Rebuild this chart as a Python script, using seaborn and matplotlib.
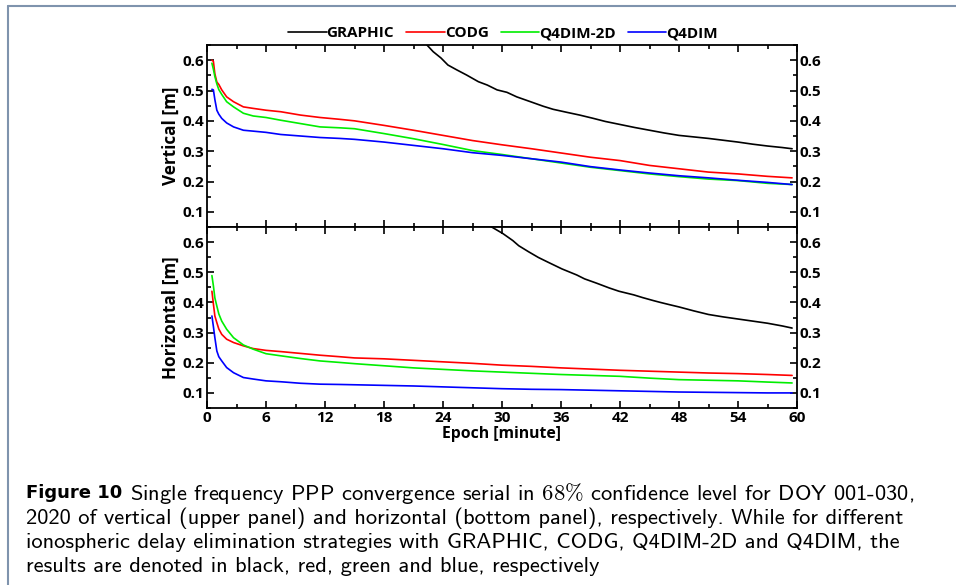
import matplotlib
matplotlib.use("Agg")
import matplotlib.pyplot as plt
import seaborn as sns
from matplotlib.ticker import MultipleLocator
from matplotlib.lines import Line2D

# ---- data ----
minutes = [0.5, 0.65, 0.8, 1.0, 1.2, 1.5, 2.0, 2.7, 3.7, 4.7, 6, 7.5, 9.5, 11.5, 13.5, 15,
           18, 21, 24, 27, 30, 33, 36, 39, 42, 45, 48, 51, 54, 57, 59.5]

vert_codg = [0.600, 0.596, 0.555, 0.528, 0.520, 0.502, 0.479, 0.463, 0.446, 0.441, 0.435, 0.430, 0.419, 0.411, 0.405, 0.400,
             0.385, 0.369, 0.352, 0.335, 0.321, 0.308, 0.294, 0.280, 0.269, 0.253, 0.242, 0.231, 0.225, 0.217, 0.212]
vert_q4dim2d = [0.590, 0.570, 0.546, 0.522, 0.503, 0.487, 0.463, 0.446, 0.425, 0.416, 0.411, 0.402, 0.391, 0.380, 0.377, 0.374,
                0.358, 0.341, 0.322, 0.302, 0.289, 0.275, 0.261, 0.247, 0.236, 0.225, 0.216, 0.208, 0.203, 0.194, 0.190]
vert_q4dim = [0.504, 0.502, 0.470, 0.435, 0.422, 0.408, 0.393, 0.380, 0.369, 0.366, 0.362, 0.355, 0.350, 0.345, 0.342, 0.339,
              0.330, 0.319, 0.308, 0.295, 0.286, 0.275, 0.264, 0.249, 0.238, 0.228, 0.219, 0.212, 0.204, 0.197, 0.190]
vert_graphic_t = [21, 22.34, 23.0, 23.8, 24.5, 25.4, 26.4, 27.6, 28.5, 29.5, 30.5, 31.5, 32.9, 34.2, 35.2, 36.6,
                  37.9, 39.3, 40.5, 42, 43.5, 45, 46.5, 48, 49.5, 51, 52.5, 54, 55.5, 57, 58.5, 59.5]
vert_graphic = [0.69, 0.651, 0.628, 0.607, 0.584, 0.568, 0.551, 0.529, 0.518, 0.502, 0.494, 0.479, 0.463, 0.448, 0.438, 0.428,
                0.419, 0.408, 0.398, 0.388, 0.378, 0.369, 0.360, 0.352, 0.347, 0.342, 0.336, 0.330, 0.323, 0.317, 0.312, 0.308]

hor_codg = [0.437, 0.395, 0.355, 0.333, 0.312, 0.294, 0.278, 0.267, 0.256, 0.247, 0.241, 0.237, 0.231, 0.225, 0.220, 0.216,
            0.213, 0.208, 0.203, 0.198, 0.192, 0.188, 0.183, 0.179, 0.175, 0.172, 0.169, 0.166, 0.164, 0.161, 0.158]
hor_q4dim2d = [0.489, 0.455, 0.415, 0.388, 0.362, 0.338, 0.311, 0.283, 0.259, 0.245, 0.230, 0.223, 0.214, 0.206, 0.201, 0.197,
               0.190, 0.183, 0.178, 0.173, 0.169, 0.165, 0.161, 0.158, 0.155, 0.149, 0.144, 0.142, 0.140, 0.136, 0.133]
hor_q4dim = [0.355, 0.320, 0.283, 0.239, 0.220, 0.206, 0.184, 0.167, 0.151, 0.146, 0.140, 0.137, 0.132, 0.129, 0.128, 0.127,
             0.125, 0.123, 0.120, 0.117, 0.114, 0.112, 0.111, 0.109, 0.107, 0.105, 0.103, 0.102, 0.101, 0.100, 0.100]
hor_graphic_t = [28, 28.95, 30.1, 31.1, 31.7, 32.7, 33.7, 34.7, 36.1, 37.6, 38.4, 39.6, 40.9, 41.9, 43.4, 44.3, 45.4,
                 46.1, 47.1, 48, 49.5, 51, 52.5, 54, 55.5, 57, 58.5, 59.5]
hor_graphic = [0.67, 0.65, 0.628, 0.605, 0.588, 0.568, 0.549, 0.533, 0.511, 0.491, 0.478, 0.464, 0.448, 0.437, 0.425, 0.416, 0.406,
               0.400, 0.392, 0.385, 0.372, 0.360, 0.352, 0.345, 0.338, 0.331, 0.322, 0.315]

series_names = ["GRAPHIC", "CODG", "Q4DIM-2D", "Q4DIM"]
series_colors = ["#000000", "#ff0000", "#00ee00", "#0000ff"]
x_ticks = [0, 6, 12, 18, 24, 30, 36, 42, 48, 54, 60]
y_ticks = [0.1, 0.2, 0.3, 0.4, 0.5, 0.6]

caption_lines = [
    "Single frequency PPP convergence serial in $68\\%$ confidence level for DOY 001-030,",
    "2020 of vertical (upper panel) and horizontal (bottom panel), respectively. While for different",
    "ionospheric delay elimination strategies with GRAPHIC, CODG, Q4DIM-2D and Q4DIM, the",
    "results are denoted in black, red, green and blue, respectively",
]

# ---- style ----
sns.set_theme(style="ticks")
plt.rcParams["font.family"] = ["Open Sans", "DejaVu Sans"]
plt.rcParams["font.weight"] = "bold"
plt.rcParams["mathtext.fontset"] = "cm"
for k in ["text.color", "axes.labelcolor", "xtick.color", "ytick.color", "axes.edgecolor"]:
    plt.rcParams[k] = "black"

fig = plt.figure(figsize=(9.56, 5.85), dpi=100)
L, W = 207 / 956, 590 / 956
ax_top = fig.add_axes([L, 1 - 227 / 585, W, 182 / 585])
ax_bot = fig.add_axes([L, 1 - 408 / 585, W, 181 / 585])


def draw(ax, gt, gv, codg, q2d, q4):
    sns.lineplot(x=gt, y=gv, ax=ax, color=series_colors[0], lw=1.2, label=series_names[0])
    sns.lineplot(x=minutes, y=codg, ax=ax, color=series_colors[1], lw=1.2, label=series_names[1])
    sns.lineplot(x=minutes, y=q2d, ax=ax, color=series_colors[2], lw=1.2, label=series_names[2])
    sns.lineplot(x=minutes, y=q4, ax=ax, color=series_colors[3], lw=1.2, label=series_names[3])
    ax.set_xlim(0, 60)
    ax.set_ylim(0.05, 0.65)
    ax.set_xticks(x_ticks)
    ax.set_yticks(y_ticks)
    ax.xaxis.set_minor_locator(MultipleLocator(3))
    ax.yaxis.set_minor_locator(MultipleLocator(0.05))
    ax.tick_params(which="both", direction="in", top=True, right=True, labelright=True,
                   width=1.2, labelsize=11, pad=2, colors="black")
    ax.tick_params(which="major", length=5)
    ax.tick_params(which="minor", length=3)
    for s in ax.spines.values():
        s.set_linewidth(1.3)
        s.set_color("black")
    ax.set_yticklabels([f"{v:.1f}" for v in y_ticks], fontweight="bold")


draw(ax_top, vert_graphic_t, vert_graphic, vert_codg, vert_q4dim2d, vert_q4dim)
draw(ax_bot, hor_graphic_t, hor_graphic, hor_codg, hor_q4dim2d, hor_q4dim)

handles, labels = ax_top.get_legend_handles_labels()
ax_top.get_legend().remove()
ax_bot.get_legend().remove()
fig.legend(handles, labels, loc="center", bbox_to_anchor=(503 / 956, 1 - 33 / 585), ncol=4,
           frameon=False, handlelength=2.5, handletextpad=0.0, columnspacing=0.8,
           prop={"weight": "bold", "size": 11})

ax_top.tick_params(labelbottom=False)
ax_top.set_xlabel("")
ax_bot.set_xticklabels([str(v) for v in x_ticks], fontweight="bold")
ax_top.set_ylabel("Vertical [m]", fontsize=12.3, fontweight="bold", labelpad=2)
ax_bot.set_ylabel("Horizontal [m]", fontsize=12.3, fontweight="bold", labelpad=2)
ax_bot.set_xlabel("Epoch [minute]", fontsize=11.3, fontweight="bold", labelpad=1)

# frame lines of the page
border = "#7f93ad"
fig.add_artist(Line2D([7.5 / 956, 7.5 / 956], [0, 1 - 5.5 / 585], transform=fig.transFigure, color=border, lw=1.5))
fig.add_artist(Line2D([7.5 / 956, 1], [1 - 5.5 / 585, 1 - 5.5 / 585], transform=fig.transFigure, color=border, lw=1.5))

# caption
cap_font = ["cmss10", "DejaVu Sans"]
ys = [493, 518, 542, 566]
x0 = 26
t0 = fig.text(x0 / 956, 1 - ys[0] / 585, "Figure 10", fontsize=13, fontweight="bold",
              family=["DejaVu Sans"], va="center", ha="left")
fig.canvas.draw()
bb = t0.get_window_extent()
fig.text(130 / 956, 1 - ys[0] / 585, caption_lines[0], fontsize=16.2, fontweight="normal",
         family=cap_font, va="center", ha="left")
for y, line in zip(ys[1:], caption_lines[1:]):
    fig.text(x0 / 956, 1 - y / 585, line, fontsize=16.2, fontweight="normal",
             family=cap_font, va="center", ha="left")

fig.savefig("out.png", dpi=100)
